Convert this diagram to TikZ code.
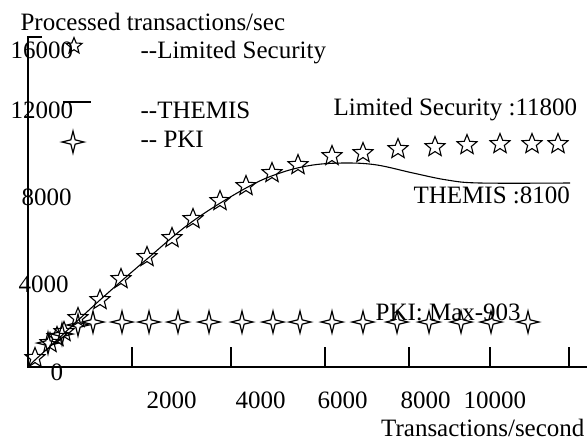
\documentclass[tikz,border=0pt]{standalone}
\usepackage{fontspec}
\setmainfont{Liberation Serif}
\usetikzlibrary{shapes.geometric}

\tikzset{
  lsmark/.style={star, star points=5, star point ratio=2.3, draw, line width=1.1pt, minimum size=21pt, inner sep=0pt},
  pkimark/.style={star, star points=4, star point ratio=3.6, draw, line width=1.2pt, minimum size=22pt, inner sep=0pt},
  lbl/.style={anchor=base west, inner sep=0pt}
}

\begin{document}
\begin{tikzpicture}[x=1pt, y=-1pt, line width=1.2pt, font=\fontsize{25}{30}\selectfont]
\useasboundingbox (0,0) rectangle (587,440);

% axes
\draw (42,37) -- (28,37) -- (28,367) -- (587,367);
\foreach \x in {132,231,325,409,490,569}
  \draw (\x,347) -- (\x,367);

% THEMIS
\draw[line width=1.1pt] plot[smooth, tension=0.6] coordinates {(28,367) (35,360) (57,340) (100,300) (147,259) (193,221) (246,188) (280,173) (313,165) (347,163) (377,165) (413,173) (447,180) (480,183) (570,183)};

% Limited Security
\foreach \x/\y [count=\i] in {35/358,50/343,57/337,64/332,78/318,100/300,121/279,147/257,172/238,193/219,220/201,246/186,272/173,298/165,332/156,363/153,398/149,435/147,467/145,500/144,532/144,558/144}
  \node[lsmark] (ls\i) at (\x,\y) {};

% PKI
\foreach \x/\y [count=\i] in {48/343,62/334,78/325,93/322,122/322,149/322,178/322,209/322,242/322,273/322,300/322,332/322,363/322,397/322,429/322,461/322,491/322,528/322}
  \node[pkimark] (pki\i) at (\x,\y) {};

% legend
\node[lsmark, minimum size=17pt] (keyls) at (74,46) {};
\draw (63,102) -- (91,102);
\node[pkimark] (keypki) at (73,142) {};
\node[lbl] (txtls) at (140,58) {{-}{-}Limited Security};
\node[lbl] (txtth) at (140,118) {{-}{-}THEMIS};
\node[lbl] (txtpki) at (140,147) {{-}{-} PKI};

% labels
\node[lbl] (ylab) at (20,30) {Processed transactions/sec};
\node[lbl] (y16) at (10,58) {16000};
\node[lbl] (y12) at (10,118) {12000};
\node[lbl] (y8) at (21,205) {8000};
\node[lbl] (y4) at (18,292) {4000};
\node[lbl] (y0) at (50,380) {0};
\node[lbl] (x2) at (146,408) {2000};
\node[lbl] (x4) at (235,408) {4000};
\node[lbl] (x6) at (317,408) {6000};
\node[lbl] (x8) at (400,408) {8000};
\node[lbl] (x10) at (463,408) {10000};
\node[anchor=base east, inner sep=0pt] (xlab) at (585,436) {Transactions/second};

\node[lbl] (maxls) at (333,115) {Limited Security :11800};
\node[lbl] (maxth) at (413,203) {THEMIS :8100};
\node[lbl] (maxpki) at (375,320) {PKI: Max-903};
\end{tikzpicture}
\end{document}
